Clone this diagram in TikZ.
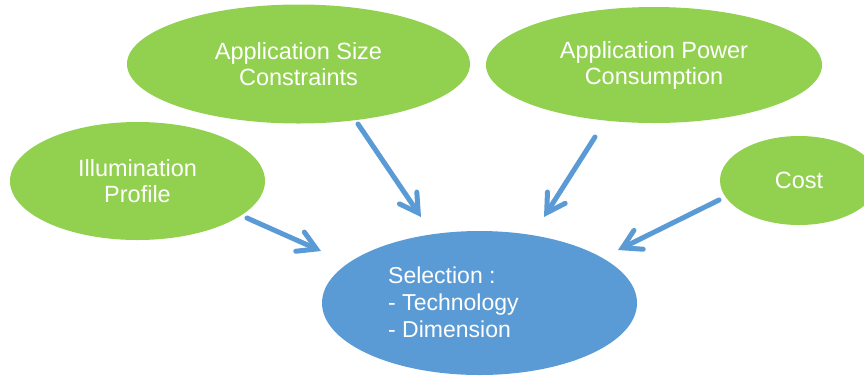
\documentclass[tikz,border=0pt]{standalone}
\usepackage{fontspec}
\setmainfont{Liberation Sans}
\usetikzlibrary{shapes.geometric,arrows.meta}
\definecolor{leaf}{HTML}{92D050}
\definecolor{sky}{HTML}{5B9BD5}
\tikzset{
  greenell/.style={ellipse, fill=leaf, draw=none, inner sep=0pt, text=white, align=center,
    font=\fontsize{23.5}{26}\selectfont},
  blueell/.style={ellipse, fill=sky, draw=none, inner sep=0pt},
  seltext/.style={inner sep=0pt, text=white, align=left, font=\fontsize{23}{27}\selectfont},
  arr/.style={draw=sky, line width=5pt, line cap=round,
    -{Straight Barb[length=18pt, width=21pt, line cap=round, line join=miter]}}
}
\begin{document}
\begin{tikzpicture}[x=1pt,y=-1pt]
\path[use as bounding box, clip] (0,0) rectangle (864,376);
\node[greenell, minimum width=343pt, minimum height=119pt] (size) at (298.5,64) {Application Size\\Constraints};
\node[greenell, minimum width=336pt, minimum height=116pt] (power) at (654,65) {Application Power\\Consumption};
\node[greenell, minimum width=255pt, minimum height=118pt] (illum) at (137.5,181) {Illumination\\Profile};
\node[greenell, minimum width=158pt, minimum height=89pt] (cost) at (799,180.5) {Cost};
\node[blueell, minimum width=315pt, minimum height=144pt] (sel) at (479.5,303) {};
\node[seltext, anchor=west] (selt) at (388,302) {Selection :\\- Technology\\- Dimension};
\coordinate (i1) at (247,218); \coordinate (i2) at (321,251);
\coordinate (s1) at (358,124); \coordinate (s2) at (421,217);
\coordinate (p1) at (595,137); \coordinate (p2) at (544,217);
\coordinate (c1) at (719,200); \coordinate (c2) at (618,250);
\draw[arr] (i1) -- (i2);
\draw[arr] (s1) -- (s2);
\draw[arr] (p1) -- (p2);
\draw[arr] (c1) -- (c2);
\end{tikzpicture}
\end{document}
